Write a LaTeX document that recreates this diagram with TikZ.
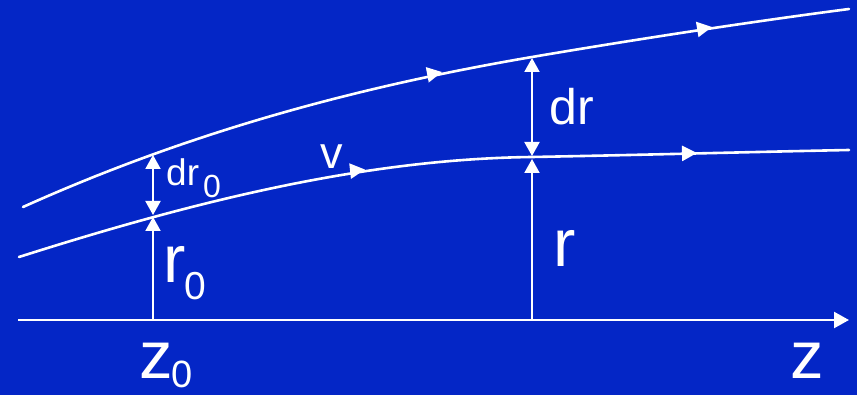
\documentclass[tikz,border=0pt]{standalone}
\usepackage{fontspec}
\setmainfont{Liberation Sans}
\usetikzlibrary{arrows.meta,calc}
\definecolor{bgblue}{RGB}{4,38,198}
\tikzset{
  lbl/.style={anchor=base west, inner sep=0pt, text=white},
  flow/.style={white, line width=2.6pt, line cap=round},
  midtip/.style={white, line width=2.6pt, -{Triangle[length=15pt,width=15pt]}},
  dim/.style={white, line width=2pt},
  dtip/.style={dim, {Triangle[length=14pt,width=15pt]}-{Triangle[length=14pt,width=15pt]}},
  utip/.style={dim, -{Triangle[length=14pt,width=15pt]}},
}
\newcommand{\fs}[1]{\fontsize{#1}{#1}\selectfont}
\begin{document}
\begin{tikzpicture}[x=1pt,y=-1pt]
\fill[bgblue] (0,0) rectangle (857,395);
\useasboundingbox (0,0) rectangle (857,395);
% axis
\coordinate (a0) at (18,320);
\coordinate (a1) at (849,320);
\coordinate (z0) at (153,320);
\coordinate (z1) at (532,320);
% curve points
\coordinate (u0) at (23,207);
\coordinate (u4) at (532,57);
\coordinate (u6) at (849,9);
\coordinate (u3) at (442,72);
\coordinate (u5) at (712,27);
\coordinate (l0) at (19,257);
\coordinate (l4) at (532,157);
\coordinate (l6) at (849,150);
\coordinate (l2) at (365,169.5);
\coordinate (l5) at (697,153);
% streamlines
\draw[flow] (u0) .. controls (193,130.5) and (362,86) .. (u4)
  .. controls (632,40) and (749,22) .. (u6);
\draw[flow] (l0) .. controls (189,203) and (362,159) .. (l4)
  .. controls (640,155) and (750,152) .. (l6);
% flow arrowheads
\draw[midtip] ($(u3)+(-12,2.3)$) -- (u3);
\draw[midtip] ($(u5)+(-12,2)$) -- (u5);
\draw[midtip] ($(l2)+(-12,1.3)$) -- (l2);
\draw[midtip] ($(l5)+(-12,0.3)$) -- (l5);
% axis
\draw[white, line width=2.4pt, -{Triangle[length=15pt,width=16pt]}] (a0) -- (a1);
% dimension arrows
\coordinate (d0t) at (153,155);
\coordinate (d0b) at (153,215);
\draw[dtip] (d0t) -- (d0b);
\draw[utip] (z0) -- (153,217);
\coordinate (d1t) at (532,58);
\coordinate (d1b) at (532,156);
\draw[dtip] (d1t) -- (d1b);
\draw[utip] (z1) -- (532,159);
% labels
\node[lbl] (tdr0) at (166,186) {\fs{37}dr};
\node[lbl] (tdr0s) at (203,198) {\fs{32}0};
\node[lbl] (tdr) at (549,125) {\fs{50}dr};
\node[lbl] (tv) at (320,169) {\fs{45}v};
\node[lbl] (tr0) at (163,283) {\fs{67}r};
\node[lbl] (tr0s) at (184,300) {\fs{39}0};
\node[lbl] (tr) at (553,267) {\fs{67}r};
\node[lbl] (tz0) at (139,378) {\fs{67}z};
\node[lbl] (tz0s) at (171,387) {\fs{38}0};
\node[lbl] (tz) at (790,378) {\fs{67}z};
\end{tikzpicture}
\end{document}
